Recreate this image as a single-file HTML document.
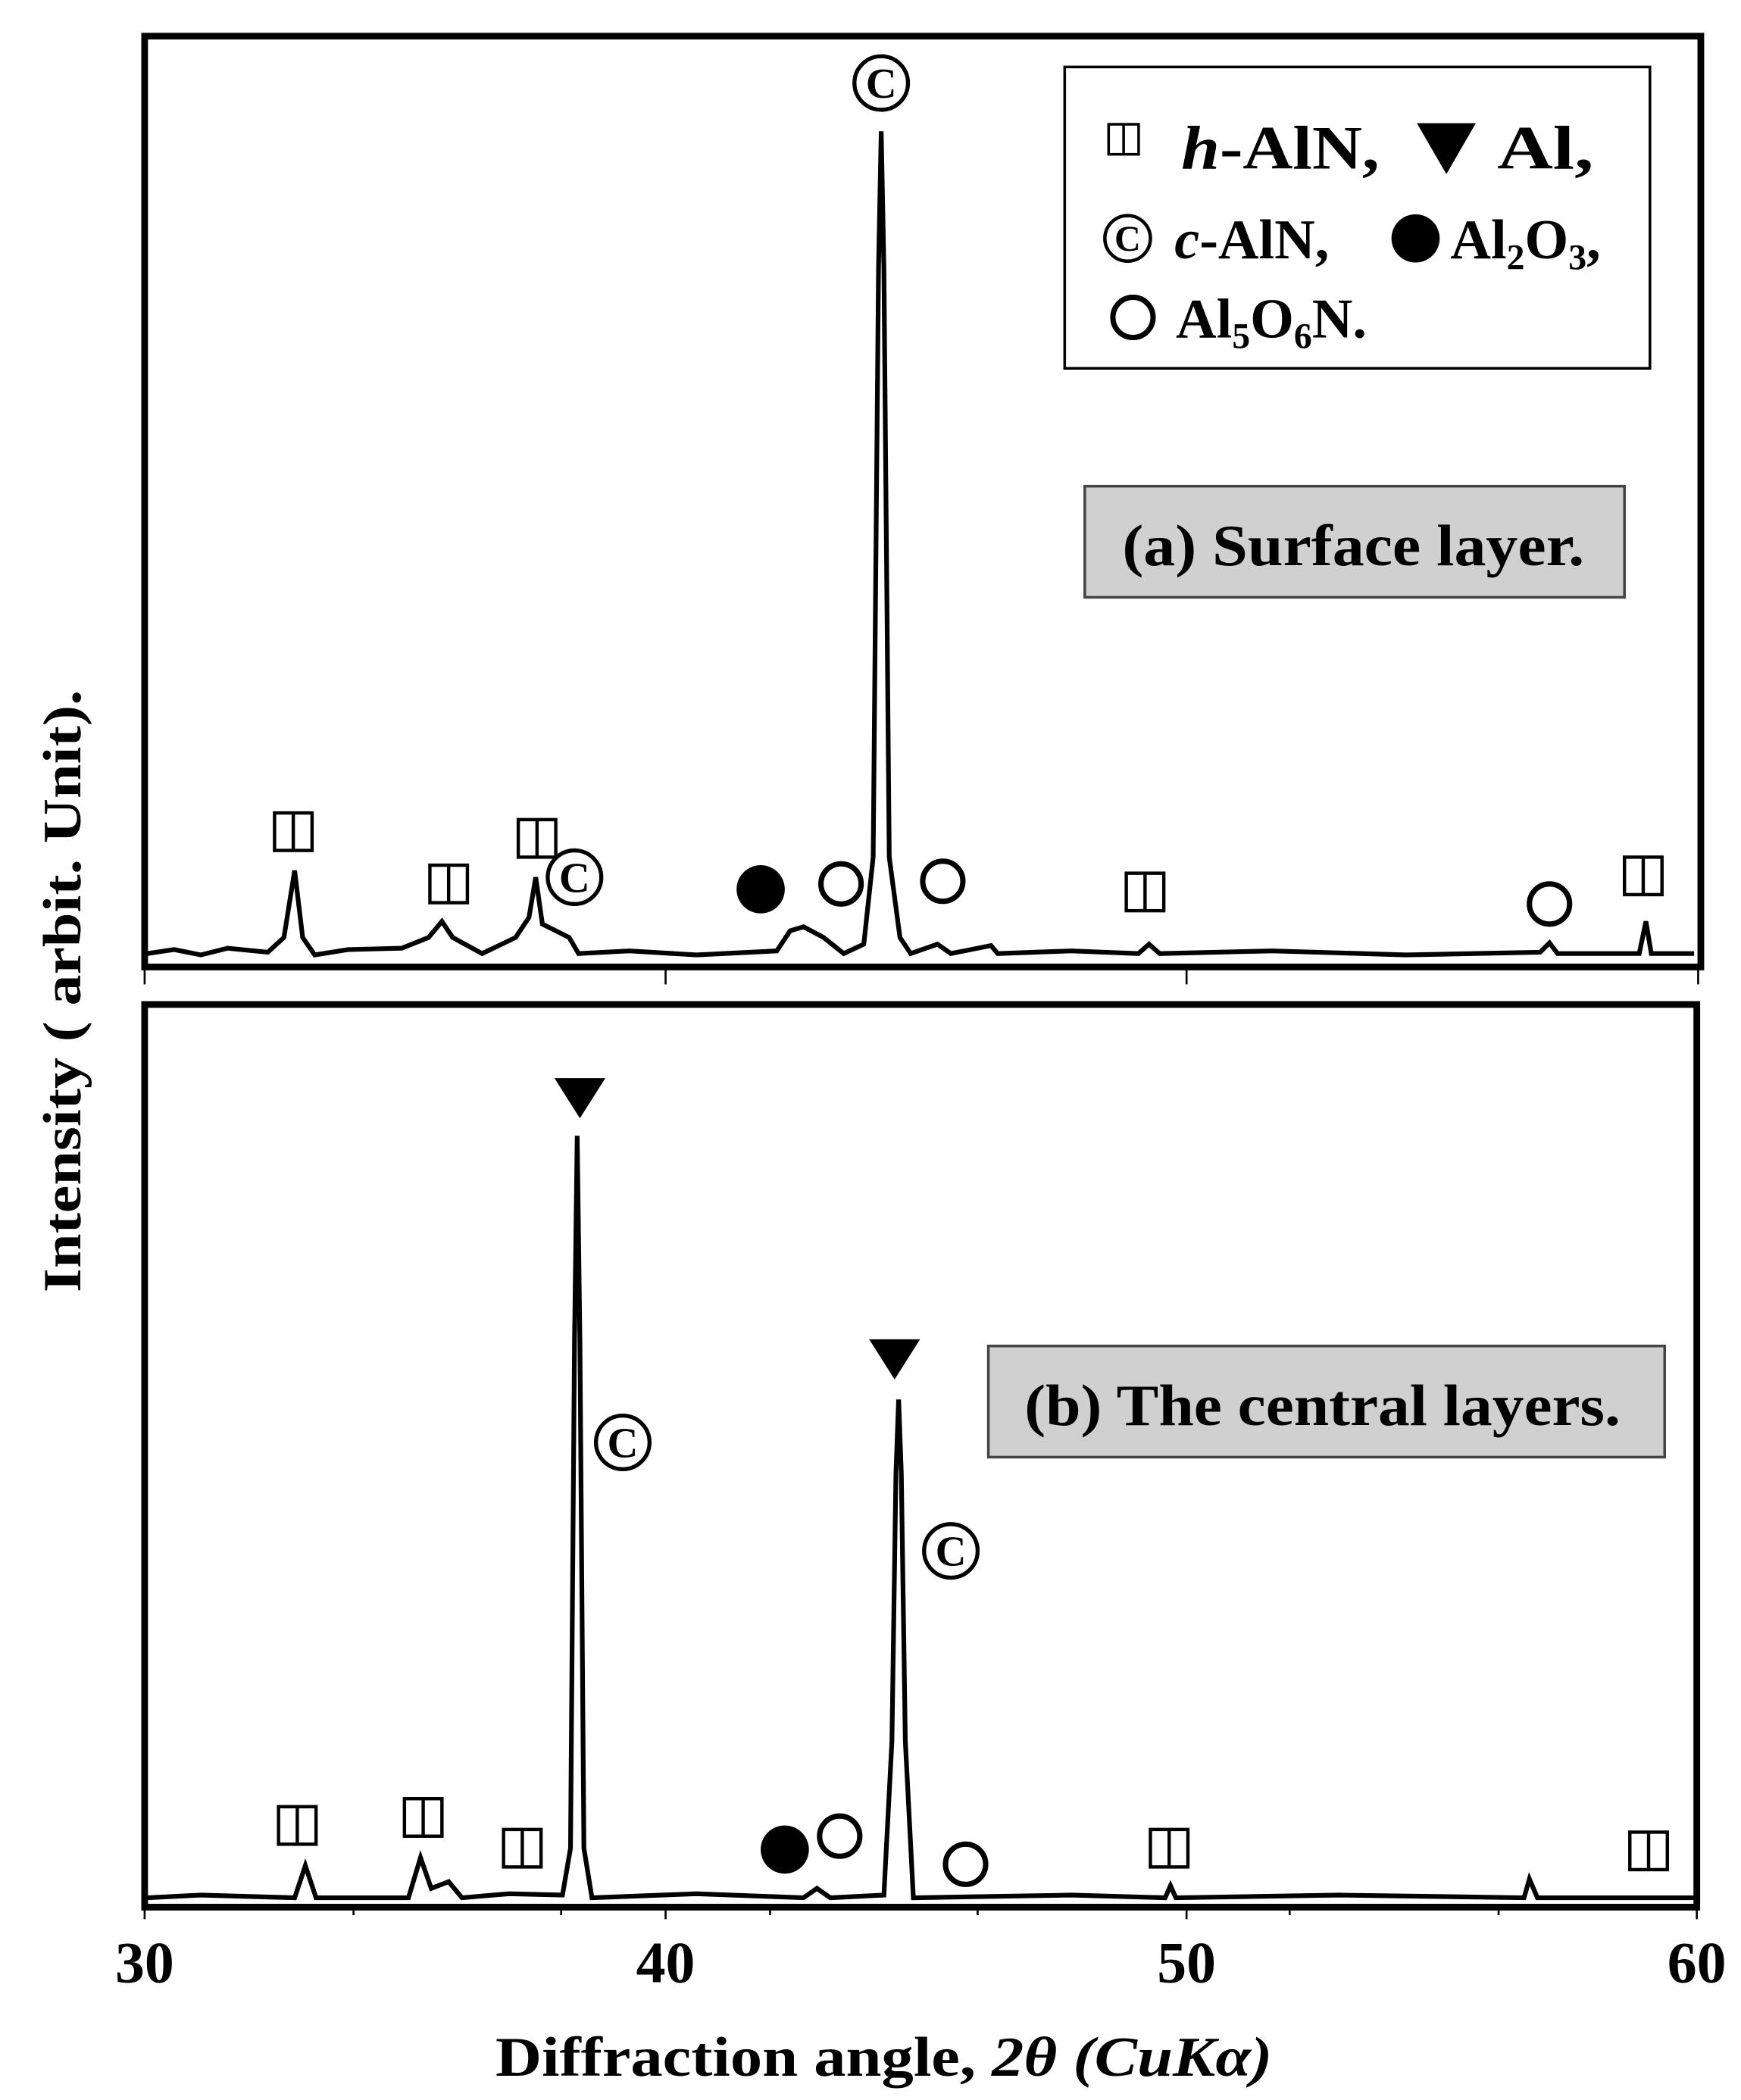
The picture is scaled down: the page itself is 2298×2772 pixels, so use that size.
<!DOCTYPE html>
<html><head><meta charset="utf-8"><style>
html,body{margin:0;padding:0;background:#fff;}
svg{display:block;}
text{font-family:"Liberation Serif",serif;font-weight:bold;fill:#000;}
</style></head><body>
<svg width="2298" height="2772" viewBox="0 0 1300 1568" preserveAspectRatio="none" xmlns="http://www.w3.org/2000/svg">
<defs>
<g id="sq"><rect x="-14" y="-14" width="28" height="28" fill="#fff" stroke="#000" stroke-width="2.5"/><line x1="0" y1="-14" x2="0" y2="14" stroke="#000" stroke-width="2.5"/></g>
<g id="cc"><circle r="20" fill="#fff" stroke="#000" stroke-width="3"/><text x="0" y="11" font-size="32" text-anchor="middle">C</text></g>
<g id="oc"><circle r="15" fill="#fff" stroke="#000" stroke-width="4"/></g>
<g id="fc"><circle r="18" fill="#000"/></g>
<g id="tri"><polygon points="-19,-15 19,-15 0,15" fill="#000"/></g>
</defs>
<rect x="108" y="27" width="1162" height="695" fill="none" stroke="#000" stroke-width="5"/>
<rect x="108" y="750" width="1159" height="674" fill="none" stroke="#000" stroke-width="5"/>
<g stroke="#000" stroke-width="1.5">
<line x1="108" y1="722" x2="108" y2="735"/><line x1="497" y1="722" x2="497" y2="735"/><line x1="886" y1="722" x2="886" y2="735"/><line x1="1268" y1="722" x2="1268" y2="735"/>
<line x1="108" y1="1424" x2="108" y2="1433"/><line x1="497" y1="1424" x2="497" y2="1433"/><line x1="886" y1="1424" x2="886" y2="1433"/><line x1="1267" y1="1424" x2="1267" y2="1433"/>
<line x1="264" y1="1424" x2="264" y2="1430"/><line x1="419" y1="1424" x2="419" y2="1430"/><line x1="575" y1="1424" x2="575" y2="1430"/><line x1="730" y1="1424" x2="730" y2="1430"/><line x1="963" y1="1424" x2="963" y2="1430"/><line x1="1119" y1="1424" x2="1119" y2="1430"/>
</g>
<path fill="none" stroke="#000" stroke-width="3.5" d="M110,712 L130,709 L150,713 L170,708 L200,711 L212,700 L220,650 L226,700 L235,713 L260,709 L300,708 L320,700 L330,688 L338,700 L360,712 L385,700 L395,685 L400,655 L405,690 L415,695 L425,700 L432,712 L470,710 L520,713 L580,710 L590,695 L600,692 L615,700 L630,712 L645,705 L652,640 L656,200 L658,98 L660,200 L664,640 L672,700 L680,712 L700,705 L710,712 L740,706 L745,712 L800,710 L850,712 L858,705 L866,712 L950,710 L1050,713 L1150,711 L1157,704 L1163,712 L1224,712 L1229,688 L1233,712 L1265,712"/>
<path fill="none" stroke="#000" stroke-width="3.5" d="M110,1417 L150,1415 L220,1417 L228,1393 L236,1417 L305,1417 L314,1387 L322,1410 L335,1405 L345,1417 L380,1414 L420,1415 L426,1380 L429,1000 L431,848 L433,1000 L436,1380 L442,1417 L520,1414 L600,1417 L610,1410 L620,1417 L660,1415 L666,1300 L669,1100 L671,1045 L673,1100 L676,1300 L682,1417 L800,1415 L870,1417 L874,1408 L878,1417 L1000,1415 L1138,1417 L1142,1403 L1148,1417 L1265,1417"/>
<use href="#cc" x="658" y="62"/>
<use href="#sq" x="219" y="621"/><use href="#sq" x="335" y="660"/><use href="#sq" x="401" y="626"/><use href="#sq" x="855" y="666"/><use href="#sq" x="1227" y="654"/>
<use href="#cc" x="429" y="655"/>
<use href="#fc" x="568" y="664"/>
<use href="#oc" x="628" y="660"/><use href="#oc" x="704" y="658"/><use href="#oc" x="1157" y="675"/>
<use href="#tri" x="433" y="820"/><use href="#tri" x="668" y="1015"/>
<use href="#cc" x="465" y="1077"/><use href="#cc" x="710" y="1158"/>
<use href="#sq" x="222" y="1363"/><use href="#sq" x="316" y="1357"/><use href="#sq" x="390" y="1380"/><use href="#sq" x="873" y="1380"/><use href="#sq" x="1231" y="1382"/>
<use href="#fc" x="586" y="1381"/>
<use href="#oc" x="627" y="1371"/><use href="#oc" x="721" y="1392"/>
<rect x="795" y="50" width="437" height="225" fill="#fff" stroke="#000" stroke-width="2"/>
<g transform="translate(839,104) scale(0.8)"><rect x="-14" y="-14" width="28" height="28" fill="#fff" stroke="#000" stroke-width="2.5"/><line x1="0" y1="-14" x2="0" y2="14" stroke="#000" stroke-width="2.5"/></g>
<text x="882" y="126" font-size="46" textLength="148" lengthAdjust="spacingAndGlyphs"><tspan font-style="italic">h</tspan>-AlN,</text>
<polygon points="1058,92 1102,92 1080,130" fill="#000"/>
<text x="1118" y="126" font-size="46" textLength="72" lengthAdjust="spacingAndGlyphs">Al,</text>
<g transform="translate(842,178) scale(0.85)"><circle r="20" fill="#fff" stroke="#000" stroke-width="3"/><text x="0" y="11" font-size="32" text-anchor="middle">C</text></g>
<text x="877" y="193" font-size="42"><tspan font-style="italic">c</tspan>-AlN,</text>
<circle cx="1057" cy="178" r="18" fill="#000"/>
<text x="1083" y="193" font-size="42">Al<tspan font-size="27" dy="8">2</tspan><tspan dy="-8">O</tspan><tspan font-size="27" dy="8">3</tspan><tspan dy="-8">,</tspan></text>
<circle cx="846" cy="237" r="15" fill="#fff" stroke="#000" stroke-width="4"/>
<text x="878" y="252" font-size="42">Al<tspan font-size="27" dy="8">5</tspan><tspan dy="-8">O</tspan><tspan font-size="27" dy="8">6</tspan><tspan dy="-8">N.</tspan></text>
<rect x="810" y="363" width="403" height="83" fill="#d0d0d0" stroke="#444" stroke-width="2"/>
<text x="838" y="422" font-size="44" textLength="345" lengthAdjust="spacingAndGlyphs">(a) Surface layer.</text>
<rect x="738" y="1005" width="505" height="83" fill="#d0d0d0" stroke="#444" stroke-width="2"/>
<text x="765" y="1064" font-size="44" textLength="445" lengthAdjust="spacingAndGlyphs">(b) The central layers.</text>
<text x="108" y="1480" text-anchor="middle" font-size="44">30</text>
<text x="497" y="1480" text-anchor="middle" font-size="44">40</text>
<text x="886" y="1480" text-anchor="middle" font-size="44">50</text>
<text x="1267" y="1480" text-anchor="middle" font-size="44">60</text>
<text x="370" y="1550" font-size="42" textLength="580" lengthAdjust="spacingAndGlyphs">Diffraction angle, <tspan font-style="italic">2θ</tspan>  <tspan font-style="italic">(CuKα)</tspan></text>
<text transform="translate(60,740) rotate(-90)" font-size="40" text-anchor="middle" textLength="450" lengthAdjust="spacingAndGlyphs">Intensity ( arbit. Unit).</text>
</svg>
</body></html>
